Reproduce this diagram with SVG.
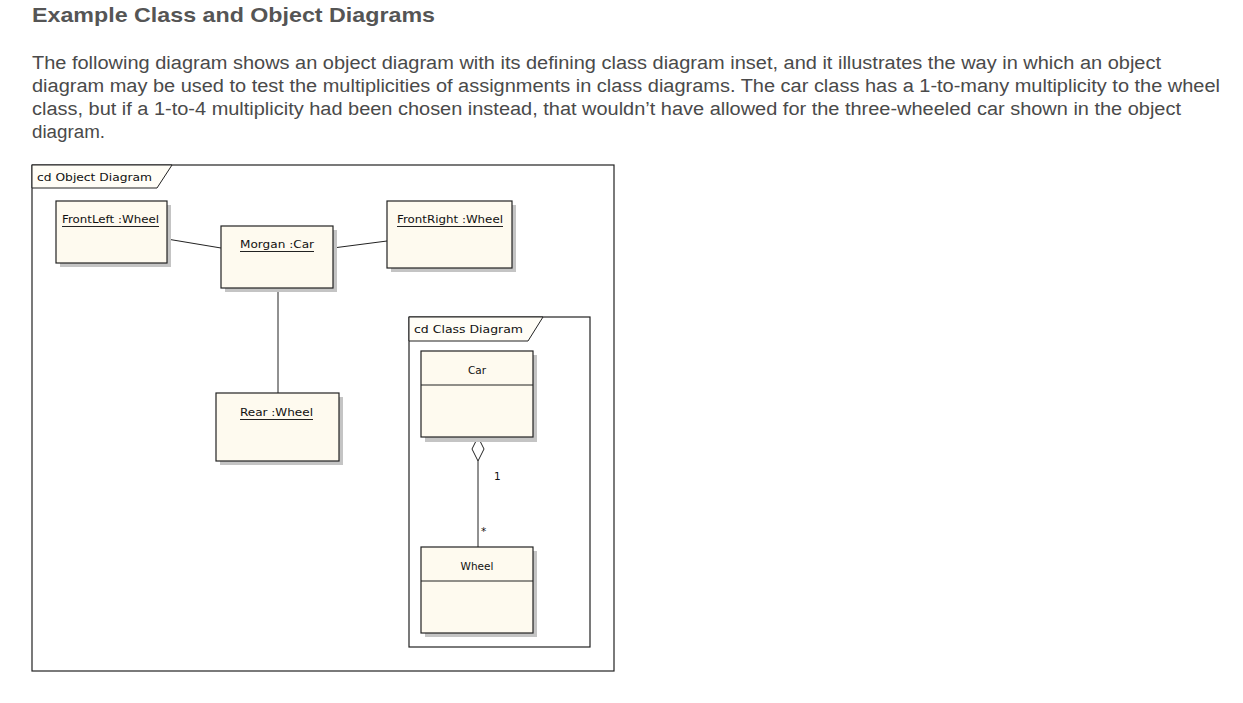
<svg xmlns="http://www.w3.org/2000/svg" width="1243" height="703" viewBox="0 0 1243 703">
<style>
.title{font-family:"Liberation Sans",Arial,sans-serif;font-weight:bold;font-size:21px;fill:#555}
.para{font-family:"Liberation Sans",Arial,sans-serif;font-size:18px;fill:#4a4a4a}
.lbl{font-family:"DejaVu Sans","Liberation Sans",sans-serif;font-size:10.5px;fill:#111}
.frame{fill:#fff;stroke:#222;stroke-width:1.2}
.tab{fill:#fffdf6;stroke:#222;stroke-width:1}
.box{fill:#fefaef;stroke:#222;stroke-width:1.2}
.shadow{fill:#c4c4c4}
.ul{stroke:#222;stroke-width:1}
.conn{stroke:#222;stroke-width:1;fill:none}
</style>
<rect width="1243" height="703" fill="#fff"/>
<text class="title" x="32" y="22" textLength="403" lengthAdjust="spacingAndGlyphs">Example Class and Object Diagrams</text>
<g id="paragraph">
<text class="para" x="32" y="69" textLength="1129" lengthAdjust="spacingAndGlyphs">The following diagram shows an object diagram with its defining class diagram inset, and it illustrates the way in which an object</text>
<text class="para" x="32" y="92" textLength="1188" lengthAdjust="spacingAndGlyphs">diagram may be used to test the multiplicities of assignments in class diagrams. The car class has a 1-to-many multiplicity to the wheel</text>
<text class="para" x="32" y="115" textLength="1149" lengthAdjust="spacingAndGlyphs">class, but if a 1-to-4 multiplicity had been chosen instead, that wouldn’t have allowed for the three-wheeled car shown in the object</text>
<text class="para" x="32" y="138" textLength="73" lengthAdjust="spacingAndGlyphs">diagram.</text>
</g>
<g id="object-frame">
<rect class="frame" x="32" y="165" width="582" height="506"/>
<path class="tab" d="M32,165 H172 L157,188 H32 Z"/>
<text class="lbl" x="37" y="181" textLength="115" lengthAdjust="spacingAndGlyphs">cd Object Diagram</text>
</g>
<g id="class-frame">
<rect class="frame" x="409" y="317" width="181" height="330"/>
<path class="tab" d="M409,317 H543 L528,341 H409 Z"/>
<text class="lbl" x="414" y="333" textLength="109" lengthAdjust="spacingAndGlyphs">cd Class Diagram</text>
</g>
<g id="connectors">
<line class="conn" x1="167" y1="239" x2="221" y2="248"/>
<line class="conn" x1="333" y1="248" x2="387" y2="241"/>
<line class="conn" x1="278" y1="288" x2="278" y2="393"/>
<line class="conn" x1="478" y1="461" x2="478" y2="547"/>
<path d="M478,437 L484,449 L478,461 L472,449 Z" fill="#fff" stroke="#222" stroke-width="1"/>
<text class="lbl" x="494" y="480">1</text>
<text class="lbl" x="481" y="535" font-size="9">*</text>
</g>
<g id="FrontLeft">
<rect class="shadow" x="60" y="205" width="111" height="62"/>
<rect class="box" x="56" y="201" width="111" height="62"/>
<text class="lbl" x="62" y="223" textLength="97" lengthAdjust="spacingAndGlyphs">FrontLeft :Wheel</text>
<line class="ul" x1="62" y1="226.5" x2="159" y2="226.5"/>
</g>
<g id="Morgan">
<rect class="shadow" x="225" y="230" width="112" height="62"/>
<rect class="box" x="221" y="226" width="112" height="62"/>
<text class="lbl" x="240" y="248" textLength="74" lengthAdjust="spacingAndGlyphs">Morgan :Car</text>
<line class="ul" x1="240" y1="251.5" x2="314" y2="251.5"/>
</g>
<g id="FrontRight">
<rect class="shadow" x="391" y="205" width="125" height="67"/>
<rect class="box" x="387" y="201" width="125" height="67"/>
<text class="lbl" x="397" y="223" textLength="106" lengthAdjust="spacingAndGlyphs">FrontRight :Wheel</text>
<line class="ul" x1="397" y1="226.5" x2="503" y2="226.5"/>
</g>
<g id="Rear">
<rect class="shadow" x="220" y="397" width="123" height="68"/>
<rect class="box" x="216" y="393" width="123" height="68"/>
<text class="lbl" x="240" y="416" textLength="73" lengthAdjust="spacingAndGlyphs">Rear :Wheel</text>
<line class="ul" x1="240" y1="419.5" x2="313" y2="419.5"/>
</g>
<g id="Car">
<rect class="shadow" x="425" y="355" width="112" height="87"/>
<rect class="box" x="421" y="351" width="112" height="86"/>
<line class="ul" x1="421" y1="385" x2="533" y2="385"/>
<text class="lbl" x="477" y="374" text-anchor="middle">Car</text>
</g>
<g id="Wheel">
<rect class="shadow" x="425" y="551" width="112" height="86"/>
<rect class="box" x="421" y="547" width="112" height="86"/>
<line class="ul" x1="421" y1="581" x2="533" y2="581"/>
<text class="lbl" x="477" y="570" text-anchor="middle">Wheel</text>
</g>
</svg>
